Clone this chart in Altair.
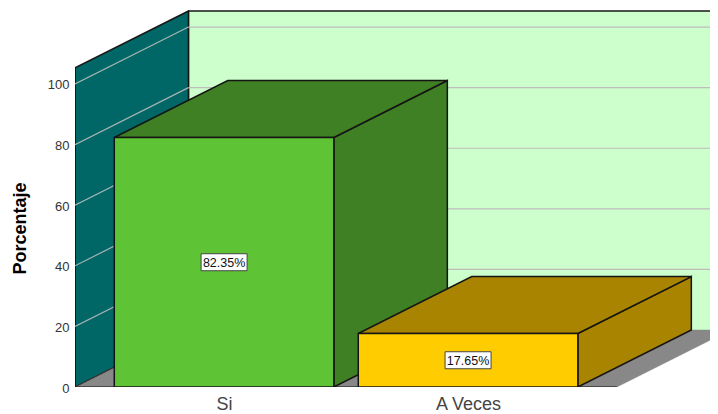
import altair as alt
import pandas as pd

categories = ["Si", "A Veces"]
values = [82.35, 17.65]
labels = ["82.35%", "17.65%"]
y_ticks = [0, 20, 40, 60, 80, 100]
front_colors = ["#5EC436", "#FFCC00"]
side_colors = ["#3F8024", "#A88400"]

HALF = 0.45        # half bar width, category units
DX = 0.465         # depth along x, category units
DY = 18.8          # depth along y, value units
LEFT, RIGHT = -0.611, 1.61
TOP = 105.3
XDOM = [LEFT, 1.9915]
YDOM = [0, 125.08]
EDGE = "#151515"
YTITLE = "Porcentaje"

X = alt.X("x:Q", scale=alt.Scale(domain=XDOM, nice=False, zero=False), title=None)
Y = alt.Y("y:Q", scale=alt.Scale(domain=YDOM, nice=False), title=YTITLE)
Y2 = alt.Y2("y2:Q")


def wall(xa, xb, ya1, ya2, yb1, yb2, fill, stroke=EDGE, width=1.5):
    """Quad with two vertical edges."""
    d = pd.DataFrame({"x": [xa, xb], "y": [ya1, yb1], "y2": [ya2, yb2]})
    return alt.Chart(d).mark_area(fill=fill, stroke=stroke, strokeWidth=width,
                                  clip=True, interpolate="linear").encode(X, Y, Y2)


def slab(x0, x1, v, fill, stroke=EDGE, width=1.5):
    """Horizontal parallelogram going back from the front edge x0..x1 at value v."""
    d = pd.DataFrame({"x": [x0, x0 + DX, x1, x1 + DX],
                      "y": [v, v + DY, v + DY, v + DY],
                      "y2": [v, v, v, v + DY]})
    return alt.Chart(d).mark_area(fill=fill, stroke=stroke, strokeWidth=width,
                                  clip=True, interpolate="linear").encode(X, Y, Y2)


def seg(xs, ys, color, width=1.2):
    d = pd.DataFrame({"x": xs, "y": ys})
    return alt.Chart(d).mark_line(color=color, strokeWidth=width, clip=True).encode(X, Y)


layers = []
# axes, drawn by an invisible layer
axes_data = pd.DataFrame({"x": [0, 1], "y": [0, 0]})
layers.append(alt.Chart(axes_data).mark_point(opacity=0).encode(
    x=alt.X("x:Q", scale=alt.Scale(domain=XDOM, nice=False, zero=False), title=None,
            axis=alt.Axis(values=[0, 1], labelExpr="['Si','A Veces'][datum.value]",
                          domain=False, ticks=False, grid=False, labelFont="Liberation Sans",
                          labelFontSize=18, labelColor="#444444", labelPadding=8,
                          labelFlush=False, labelBaseline="top")),
    y=alt.Y("y:Q", scale=alt.Scale(domain=YDOM, nice=False), title=YTITLE,
            axis=alt.Axis(values=y_ticks, domain=False, ticks=False, grid=False,
                          labelFont="Liberation Sans", labelFontSize=13, labelColor="#333333",
                          labelPadding=6, labelOffset=1, titleFont="Liberation Sans",
                          titleFontSize=18, titleFontWeight="bold", titleColor="#000000",
                          titleX=-46, titleY=220, titleAnchor="middle"))))
# back wall, side wall, floor
layers.append(wall(LEFT + DX, XDOM[1] + 1, DY, TOP + DY, DY, TOP + DY, "#CCFFCC", stroke="#CCFFCC", width=0))
layers.append(seg([LEFT + DX, XDOM[1] + 1], [TOP + DY, TOP + DY], EDGE, 1.5))
layers.append(seg([LEFT + DX, LEFT + DX], [DY, TOP + DY], EDGE, 1.5))
layers.append(wall(LEFT, LEFT + DX, 0, TOP, DY, TOP + DY, "#006666"))
layers.append(slab(LEFT, RIGHT, 0, "#888888", stroke="#888888", width=0.5))
layers.append(seg([LEFT, RIGHT], [0, 0], "#333333", 1.5))
layers.append(seg([LEFT, LEFT + DX], [0, DY], "#333333", 1))
layers.append(seg([LEFT, LEFT], [0, TOP], EDGE, 1.5))
# gridlines
for t in y_ticks[1:]:
    layers.append(seg([LEFT + DX, XDOM[1] + 1], [t + DY, t + DY], "#BDBDBD"))
    layers.append(seg([LEFT, LEFT + DX], [t, t + DY], "#A5B5B2"))

# bars
for i, v in enumerate(values):
    x0, x1 = i - HALF, i + HALF
    layers.append(wall(x1, x1 + DX, 0, v, DY, v + DY, side_colors[i]))
    layers.append(slab(x0, x1, v, side_colors[i]))
    layers.append(wall(x0, x1, 0, v, 0, v, front_colors[i]))

# value labels
lab = pd.DataFrame({"x": [0, 1], "y": [v / 2 for v in values], "t": labels})
layers.append(alt.Chart(lab).mark_rect(width=46, height=17, fill="white", stroke="#444444",
                                       strokeWidth=1).encode(X, Y))
layers.append(alt.Chart(lab).mark_text(font="Liberation Sans", fontSize=12.5, color="#111111",
                                       dy=1, baseline="middle", align="center").encode(X, Y, text="t:N"))

chart = alt.layer(*layers).properties(
    width=635, height=379,
    autosize=alt.AutoSizeParams(type="none"),
    padding={"left": 67, "top": 0, "right": 0, "bottom": 27},
).configure_view(stroke=None)

chart.save("out.html", embed_options={"renderer": "svg", "actions": False})
